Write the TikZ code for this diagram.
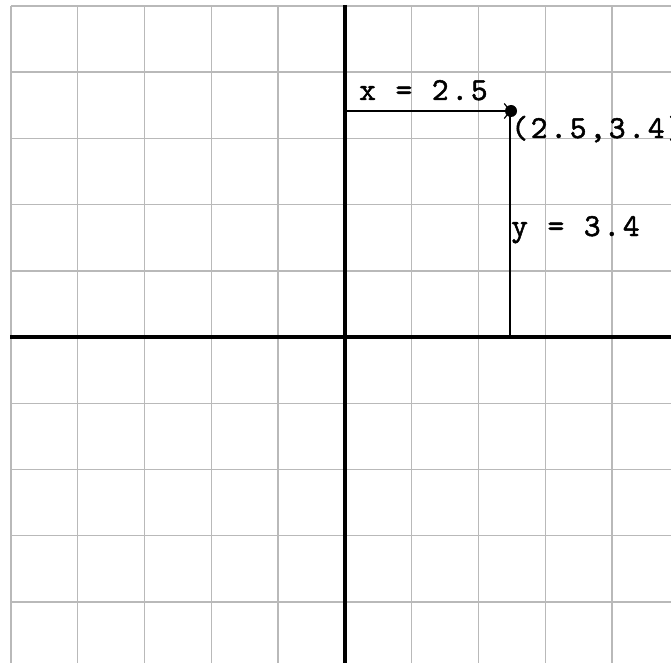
\documentclass[tikz,border=0pt]{standalone}
\usepackage{fontspec}
\newfontfamily\monof{lmmono10-regular.otf}[FakeBold=1.5,LetterSpace=8.5]
\usetikzlibrary{arrows.meta}
\definecolor{gridgray}{RGB}{185,185,185}
\tikzset{
  gridline/.style={draw=gridgray, line width=1.4pt},
  axisline/.style={draw=black, line width=4pt},
  guide/.style={draw=black, line width=1.3pt},
  lbl/.style={font=\monof\fontsize{32}{32}\selectfont, inner sep=0pt, anchor=base west, text=black},
}
\begin{document}
\begin{tikzpicture}[x=1pt,y=-1pt]
\useasboundingbox (0,0) rectangle (671,663);
\clip (0,0) rectangle (671,663);
\fill[white] (0,0) rectangle (671,663);
% grid
\foreach \i in {0,...,9} {
  \draw[gridline] ({11+66.78*\i},6) -- ({11+66.78*\i},663);
  \draw[gridline] (11,{6+66.2*\i}) -- (671,{6+66.2*\i});
}
% axes
\draw[axisline] (10,337) -- (671,337);
\draw[axisline] (345,5) -- (345,663);
% point and guides
\coordinate (A) at (346,111);
\coordinate (P) at (511,111);
\coordinate (F) at (510,337);
\coordinate (Ptop) at (510,111);
\draw[guide, -{Straight Barb[length=6pt,width=15pt,line width=1.2pt]}] (A) -- (P);
\draw[guide] (Ptop) -- (F);
\fill[black] (P) circle (6pt) node (dot) {};
% labels
\node[lbl] (xl) at (359,100) {x = 2.5};
\node[lbl] (pl) at (511,138) {(2.5,3.4)};
\node[lbl] (yl) at (511,236) {y = 3.4};
\end{tikzpicture}
\end{document}
